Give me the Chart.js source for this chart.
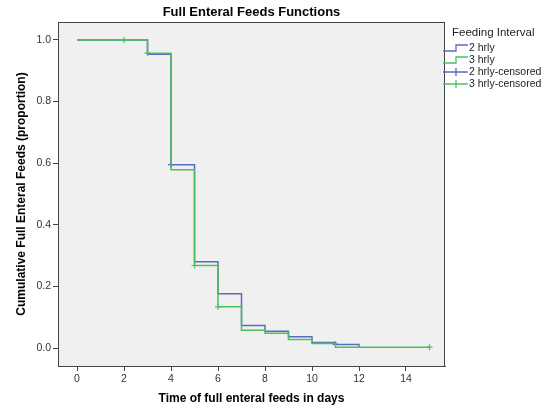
<!DOCTYPE html>
<html>
<head>
<meta charset="utf-8">
<script src="https://cdn.jsdelivr.net/npm/chart.js@4"></script>
<style>
  html, body { margin: 0; padding: 0; background: #fff; }
  #wrap { width: 551px; height: 408px; }
</style>
</head>
<body>
<div id="wrap"><canvas id="kmChart" width="551" height="408"></canvas></div>
<script>
// Kaplan-Meier style step data
const blueTimes = [0, 3, 4, 5, 6, 7, 8, 9, 10, 11, 12];
const blueSurv = [1.0, 0.953, 0.595, 0.280, 0.176, 0.073, 0.055, 0.037, 0.018, 0.012, 0.003];
const greenTimes = [0, 3, 4, 5, 6, 7, 8, 9, 10, 11, 15];
const greenSurv = [1.0, 0.957, 0.579, 0.268, 0.134, 0.058, 0.048, 0.028, 0.015, 0.003, 0.003];

// censored observations
const blueCensTimes = [4, 11];
const blueCensSurv = [0.595, 0.012];
const greenCensTimes = [2, 3, 5, 6, 15];
const greenCensSurv = [1.0, 0.957, 0.268, 0.134, 0.003];

const xTicks = [0, 2, 4, 6, 8, 10, 12, 14];
const yTicks = [0.0, 0.2, 0.4, 0.6, 0.8, 1.0];
const legendLabels = ['2 hrly', '3 hrly', '2 hrly-censored', '3 hrly-censored'];

const BLUE = '#5a6cc0';
const GREEN = '#4cc15a';
const FONT = '"Liberation Sans", Arial, sans-serif';

const toPoints = (xs, ys) => xs.map((x, i) => ({ x: x, y: ys[i] }));

// background, frame, title and legend
const spssFrame = {
    id: 'spssFrame',
    beforeDraw(chart) {
        const { ctx, chartArea: a } = chart;
        ctx.save();
        ctx.fillStyle = '#f0f0f0';
        ctx.fillRect(a.left, a.top, a.right - a.left, a.bottom - a.top);
        ctx.restore();
    },
    afterDraw(chart) {
        const { ctx, chartArea: a } = chart;
        ctx.save();
        ctx.strokeStyle = '#444';
        ctx.lineWidth = 1;
        ctx.strokeRect(a.left + 0.5, a.top + 0.5, a.right - a.left - 1, a.bottom - a.top);

        // chart title
        ctx.fillStyle = '#000';
        ctx.font = 'bold 13px ' + FONT;
        ctx.textAlign = 'center';
        ctx.textBaseline = 'middle';
        ctx.fillText('Full Enteral Feeds Functions', (a.left + a.right) / 2, 12);

        // legend
        ctx.textAlign = 'left';
        ctx.font = '11.5px ' + FONT;
        ctx.fillStyle = '#222';
        ctx.fillText('Feeding Interval', 452, 33);
        ctx.font = '10.5px ' + FONT;
        const colors = [BLUE, GREEN, BLUE, GREEN];
        legendLabels.forEach((label, i) => {
            const y = 48 + i * 12;
            ctx.strokeStyle = colors[i];
            ctx.lineWidth = 1.3;
            ctx.beginPath();
            if (i < 2) {
                ctx.moveTo(443, y + 3);
                ctx.lineTo(456, y + 3);
                ctx.lineTo(456, y - 3);
                ctx.lineTo(468, y - 3);
            } else {
                ctx.moveTo(443, y);
                ctx.lineTo(468, y);
                ctx.moveTo(456, y - 4);
                ctx.lineTo(456, y + 4);
            }
            ctx.stroke();
            ctx.fillStyle = '#222';
            ctx.fillText(label, 469, y);
        });
        ctx.restore();
    }
};

const ctx = document.getElementById('kmChart').getContext('2d');

new Chart(ctx, {
    type: 'line',
    data: {
        datasets: [
            {
                label: '3 hrly-censored',
                data: toPoints(greenCensTimes, greenCensSurv),
                showLine: false,
                pointStyle: 'cross',
                pointRadius: 3,
                borderColor: GREEN,
                borderWidth: 1.2
            },
            {
                label: '3 hrly',
                data: toPoints(greenTimes, greenSurv),
                stepped: 'before',
                borderColor: GREEN,
                borderWidth: 1.5,
                pointRadius: 0,
                fill: false
            },
            {
                label: '2 hrly-censored',
                data: toPoints(blueCensTimes, blueCensSurv),
                showLine: false,
                pointStyle: 'cross',
                pointRadius: 3,
                borderColor: BLUE,
                borderWidth: 1.2
            },
            {
                label: '2 hrly',
                data: toPoints(blueTimes, blueSurv),
                stepped: 'before',
                borderColor: BLUE,
                borderWidth: 1.5,
                pointRadius: 0,
                fill: false
            }
        ]
    },
    options: {
        responsive: false,
        animation: false,
        layout: { padding: { left: 0, right: 106, top: 22, bottom: 0 } },
        plugins: {
            legend: { display: false },
            tooltip: { enabled: false },
            title: { display: false }
        },
        scales: {
            x: {
                type: 'linear',
                min: -0.81,
                max: 15.66,
                afterBuildTicks: s => { s.ticks = xTicks.map(v => ({ value: v })); },
                afterFit: s => { s.height = 42; },
                grid: { drawOnChartArea: false, drawTicks: true, tickLength: 5, color: '#444' },
                border: { display: true, color: '#444' },
                ticks: {
                    color: '#333',
                    font: { family: FONT, size: 10.5 },
                    padding: 2,
                    maxRotation: 0,
                    callback: v => String(v)
                },
                title: {
                    display: true,
                    text: 'Time of full enteral feeds in days',
                    color: '#000',
                    font: { family: FONT, size: 12, weight: 'bold' },
                    padding: { top: 0, bottom: 2 }
                }
            },
            y: {
                type: 'linear',
                min: -0.058,
                max: 1.058,
                afterBuildTicks: s => { s.ticks = yTicks.map(v => ({ value: v })); },
                afterFit: s => { s.width = 58; },
                grid: { drawOnChartArea: false, drawTicks: true, tickLength: 5, color: '#444' },
                border: { display: true, color: '#444' },
                ticks: {
                    color: '#333',
                    font: { family: FONT, size: 10.5 },
                    padding: 2,
                    callback: v => v.toFixed(1)
                },
                title: {
                    display: true,
                    text: 'Cumulative Full Enteral Feeds (proportion)',
                    color: '#000',
                    font: { family: FONT, size: 12, weight: 'bold' },
                    padding: { top: 14, bottom: 0 }
                }
            }
        }
    },
    plugins: [spssFrame]
});
</script>
</body>
</html>
